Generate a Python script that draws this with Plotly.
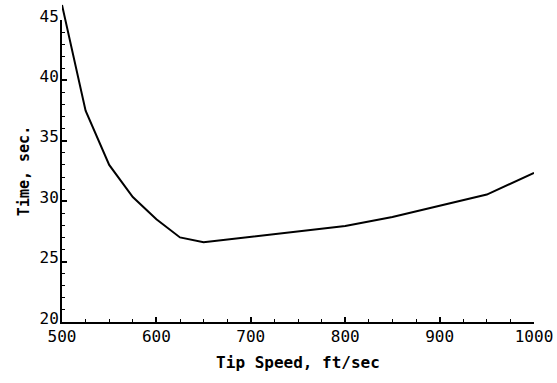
import plotly.graph_objects as go

tip_speed = [500, 525, 550, 575, 600, 625, 650, 700, 750, 800, 850, 900, 950, 1000]
time_sec = [46.25, 37.5, 33.0, 30.35, 28.5, 27.0, 26.6, 27.05, 27.5, 27.95, 28.7, 29.6, 30.55, 32.35]

x_ticks = [500, 600, 700, 800, 900, 1000]
y_ticks = [20, 25, 30, 35, 40, 45]

W, H = 557, 383
L, R, T, B = 62, 23, 2, 61
pw, ph = W - L - R, H - T - B
y_axis_px = 302  # pixel height of the drawn 20..45 axis

fig = go.Figure()
# empty trace so the frame subplot (x, y) is created
fig.add_trace(go.Scatter(x=[], y=[], mode="lines", xaxis="x", yaxis="y",
                         showlegend=False, hoverinfo="skip"))
fig.add_trace(go.Scatter(x=tip_speed, y=time_sec, mode="lines",
                         line=dict(color="black", width=2),
                         xaxis="x", yaxis="y2", showlegend=False, hoverinfo="skip"))

mono = "DejaVu Sans Mono"
fig.update_layout(
    width=W, height=H,
    margin=dict(l=L, r=R, t=T, b=B, autoexpand=False),
    paper_bgcolor="white", plot_bgcolor="rgba(0,0,0,0)",
    xaxis=dict(domain=[0, 1], range=[500, 1000], anchor="y", automargin=False,
               showline=True, linecolor="black", linewidth=2, showgrid=False, zeroline=False,
               tickvals=x_ticks, ticks="inside", ticklen=5, tickwidth=1.5, tickcolor="black",
               minor=dict(dtick=25, ticks="inside", ticklen=3, tickwidth=1, tickcolor="black", showgrid=False),
               tickfont=dict(family=mono, size=16, color="black"), ticklabelstandoff=-1,
               title=dict(text="<b>Tip Speed, ft/sec</b>", font=dict(family=mono, size=16, color="black"), standoff=12)),
    yaxis=dict(domain=[0, y_axis_px / ph], range=[20, 45], anchor="x", automargin=False,
               showline=True, linecolor="black", linewidth=2, showgrid=False, zeroline=False,
               tickvals=y_ticks, ticks="inside", ticklen=5, tickwidth=1.5, tickcolor="black",
               minor=dict(dtick=1, ticks="inside", ticklen=3, tickwidth=1, tickcolor="black", showgrid=False),
               tickfont=dict(family=mono, size=16, color="black"), ticklabelstandoff=-2, ticklabelshift=-4,
               title=dict(text="<b>Time, sec.</b>", font=dict(family=mono, size=15, color="black"), standoff=6)),
    yaxis2=dict(domain=[0, 1], range=[20, 20 + 25 * ph / y_axis_px], anchor="x",
                visible=False, automargin=False),
)

fig.write_html("out.html", post_script="document.body.style.margin='0';",
               config={"displayModeBar": False})
